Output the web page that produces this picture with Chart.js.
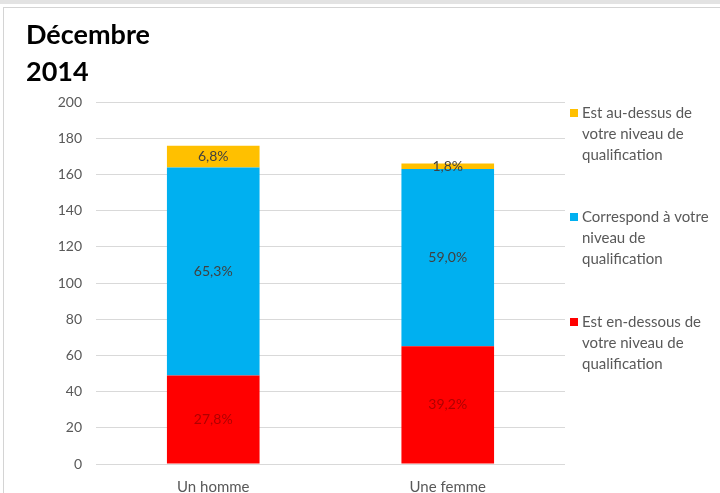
<!DOCTYPE html>
<html>
<head>
<meta charset="utf-8">
<script src="https://cdn.jsdelivr.net/npm/chart.js@4.4.1/dist/chart.umd.min.js"></script>
<style>
html, body { margin: 0; padding: 0; background: #fff; overflow: hidden; }
#band { position: absolute; left: 0; top: 0; width: 720px; height: 4px; background: #e3e3e3; }
#frame { position: absolute; left: 3px; top: 7px; width: 717px; height: 500px; border-top: 1px solid #d4d4d4; border-left: 1px solid #d4d4d4; }
#wrap { position: absolute; left: 0; top: 0; width: 720px; height: 500px; }
</style>
</head>
<body>
<div id="band"></div>
<div id="frame"></div>
<div id="wrap"><canvas id="chart" width="720" height="500"></canvas></div>
<script>
// Données
const categories = ['Un homme', 'Une femme'];
const enDessous = [48.9, 65.1];
const correspond = [114.9, 97.9];
const auDessus = [12.0, 3.0];

const pctEnDessous = ['27,8%', '39,2%'];
const pctCorrespond = ['65,3%', '59,0%'];
const pctAuDessus = ['6,8%', '1,8%'];

const titleLines = ['Décembre', '2014'];
const legendAuDessus = ['Est au-dessus de', 'votre niveau de', 'qualification'];
const legendCorrespond = ['Correspond à votre', 'niveau de', 'qualification'];
const legendEnDessous = ['Est en-dessous de', 'votre niveau de', 'qualification'];

const FONT = 'Lato, "Open Sans", sans-serif';

// Pourcentages au milieu de chaque segment
const barLabels = {
    id: 'barLabels',
    afterDatasetsDraw(chart) {
        const ctx = chart.ctx;
        ctx.save();
        ctx.font = '14px ' + FONT;
        ctx.textAlign = 'center';
        ctx.textBaseline = 'middle';
        chart.data.datasets.forEach((ds, i) => {
            chart.getDatasetMeta(i).data.forEach((bar, j) => {
                ctx.fillStyle = ds.labelColor;
                ctx.fillText(ds.pct[j], bar.x, (bar.y + bar.base) / 2);
            });
        });
        ctx.restore();
    }
};

// Titre et légende à droite
const decor = {
    id: 'decor',
    afterDraw(chart) {
        const ctx = chart.ctx;
        ctx.save();
        ctx.fillStyle = '#000';
        ctx.font = 'bold 27px ' + FONT;
        ctx.textBaseline = 'middle';
        ctx.textAlign = 'left';
        titleLines.forEach((t, i) => ctx.fillText(t, 26, 35 + i * 37));

        const groups = [
            { color: '#FFC000', lines: legendAuDessus, y: 113 },
            { color: '#00B0F0', lines: legendCorrespond, y: 217 },
            { color: '#FF0000', lines: legendEnDessous, y: 322 }
        ];
        ctx.font = '15px ' + FONT;
        groups.forEach(g => {
            ctx.fillStyle = g.color;
            ctx.fillRect(570, g.y - 4, 8, 8);
            ctx.fillStyle = '#595959';
            g.lines.forEach((l, k) => ctx.fillText(l, 582, g.y + k * 21));
        });
        ctx.restore();
    }
};

new Chart(document.getElementById('chart'), {
    type: 'bar',
    data: {
        labels: categories,
        datasets: [
            { label: legendEnDessous.join(' '), data: enDessous, backgroundColor: '#FF0000', pct: pctEnDessous, labelColor: '#B00000' },
            { label: legendCorrespond.join(' '), data: correspond, backgroundColor: '#00B0F0', pct: pctCorrespond, labelColor: '#404040' },
            { label: legendAuDessus.join(' '), data: auDessus, backgroundColor: '#FFC000', pct: pctAuDessus, labelColor: '#404040' }
        ]
    },
    options: {
        responsive: false,
        animation: false,
        layout: { padding: { top: 102, right: 155, bottom: 0, left: 0 } },
        plugins: {
            legend: { display: false },
            tooltip: { enabled: false }
        },
        datasets: {
            bar: { categoryPercentage: 1, barPercentage: 0.395, borderWidth: 0 }
        },
        scales: {
            x: {
                stacked: true,
                grid: { display: false },
                border: { display: false },
                ticks: { color: '#595959', font: { family: FONT, size: 15 }, padding: 6 },
                afterFit(scale) { scale.height = 36; }
            },
            y: {
                stacked: true,
                min: 0,
                max: 200,
                ticks: { stepSize: 20, color: '#595959', font: { family: FONT, size: 14 }, padding: 14 },
                grid: { color: '#d9d9d9', drawTicks: false },
                border: { display: false },
                afterFit(scale) { scale.width = 96; }
            }
        }
    },
    plugins: [barLabels, decor]
});
</script>
</body>
</html>
